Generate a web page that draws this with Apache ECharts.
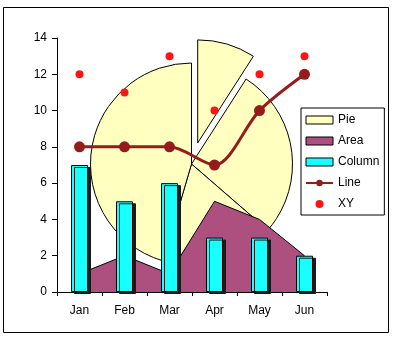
<!DOCTYPE html>
<html>
<head>
<meta charset="utf-8">
<script src="https://cdn.jsdelivr.net/npm/echarts@6/dist/echarts.min.js"></script>
<style>
html,body{margin:0;padding:0;background:#fff;}
#c{width:396px;height:339px;}
</style>
</head>
<body>
<div id="c"></div>
<script>
var categories = ['Jan','Feb','Mar','Apr','May','Jun'];
var pieValues = [1, 3, 2, 5];
var areaValues = [1, 2, 1, 5, 4, 2];
var columnValues = [7, 5, 6, 3, 3, 2];
var lineValues = [8, 8, 8, 7, 10, 12];
var xyValues = [12, 11, 13, 10, 12, 13];
var yTicks = [0, 2, 4, 6, 8, 10, 12, 14];

var FONT = 'Liberation Sans, Arial, sans-serif';
var PIE = '#ffffc0', AREA = '#ad5080', COL = '#19ffff', LINE = '#961b1b', XY = '#ff1414';

// pie geometry: main centre and exploded first slice (offset along its bisector)
var PIE_C = [191.5, 164], PIE_R = 101, EXPLODE = 22;
var total = pieValues.reduce(function(a, b){ return a + b; }, 0);
var bis = (90 - 360 * pieValues[0] / total / 2) * Math.PI / 180;
var PIE_C2 = [PIE_C[0] + EXPLODE * Math.cos(bis), PIE_C[1] - EXPLODE * Math.sin(bis)];

var hidden = {color: 'rgba(0,0,0,0)', borderWidth: 0};
var shown = {color: PIE, borderColor: '#000', borderWidth: 1};

var chart = echarts.init(document.getElementById('c'), null, {renderer:'canvas'});
var option = {
  animation: false,
  backgroundColor: '#fff',
  textStyle: {fontFamily: FONT, color: '#000'},
  grid: {left: 57, right: 69, top: 38, bottom: 47, containLabel: false},
  xAxis: {
    type: 'category', data: categories, boundaryGap: true,
    axisLine: {lineStyle: {color: '#000', width: 1}},
    axisTick: {show: true, length: 4, lineStyle: {color: '#000'}},
    axisLabel: {color: '#000', fontSize: 12, fontFamily: FONT, margin: 13},
    splitLine: {show: false}
  },
  yAxis: {
    type: 'value', min: yTicks[0], max: yTicks[yTicks.length-1], interval: 2,
    axisLine: {show: true, lineStyle: {color: '#000', width: 1}},
    axisTick: {show: true, length: 5, lineStyle: {color: '#000'}},
    axisLabel: {color: '#000', fontSize: 12, fontFamily: FONT, margin: 10},
    splitLine: {show: false}
  },
  legend: {
    orient: 'vertical', left: 301, top: 108,
    padding: [5, 5, 4, 4],
    itemWidth: 27, itemHeight: 8, itemGap: 7,
    borderColor: '#000', borderWidth: 1,
    textStyle: {fontSize: 12, fontFamily: FONT, color: '#000', lineHeight: 14},
    selectedMode: false,
    data: [
      {name: 'Pie', icon: 'rect', itemStyle: {color: PIE, borderColor: '#000', borderWidth: 1}},
      {name: 'Area', icon: 'rect', itemStyle: {color: AREA, borderColor: '#000', borderWidth: 1}},
      {name: 'Column', icon: 'rect', itemStyle: {color: COL, borderColor: '#000', borderWidth: 1}},
      {name: 'Line'},
      {name: 'XY', icon: 'circle', itemStyle: {color: XY, opacity: 1}}
    ]
  },
  graphic: [{
    type: 'rect', z: 100, silent: true,
    shape: {x: 3.5, y: 7.5, width: 385, height: 325},
    style: {fill: 'none', stroke: '#000', lineWidth: 1}
  }],
  series: [
    {
      name: 'Pie', type: 'pie', z: 1,
      center: PIE_C, radius: PIE_R,
      startAngle: 90, clockwise: true,
      label: {show: false}, labelLine: {show: false},
      emphasis: {disabled: true},
      data: pieValues.map(function(v, i){
        return {name: 'Pie', value: v, itemStyle: i === 0 ? hidden : shown};
      })
    },
    {
      name: 'PieExploded', type: 'pie', z: 1,
      center: PIE_C2, radius: PIE_R + 2,
      startAngle: 90, clockwise: true,
      label: {show: false}, labelLine: {show: false},
      emphasis: {disabled: true},
      data: pieValues.map(function(v, i){
        return {name: 'slice' + i, value: v, itemStyle: i === 0 ? shown : hidden};
      })
    },
    {
      name: 'Area', type: 'line', z: 2, data: areaValues,
      symbol: 'none', smooth: false,
      lineStyle: {color: '#000', width: 1},
      itemStyle: {color: AREA},
      areaStyle: {color: AREA, opacity: 1}
    },
    {
      name: 'Column', type: 'bar', z: 3, data: columnValues, barWidth: 17,
      itemStyle: {color: COL, borderColor: '#000', borderWidth: 1,
        shadowColor: '#1a1a1a', shadowBlur: 0, shadowOffsetX: 3, shadowOffsetY: 2}
    },
    {
      name: 'Line', type: 'line', z: 4, data: lineValues, smooth: 0.3,
      symbol: 'circle', symbolSize: 11,
      lineStyle: {color: LINE, width: 3},
      itemStyle: {color: LINE}
    },
    {
      name: 'XY', type: 'scatter', z: 5, data: xyValues,
      symbol: 'circle', symbolSize: 8,
      itemStyle: {color: XY, opacity: 1}
    }
  ]
};
chart.setOption(option);
</script>
</body>
</html>
